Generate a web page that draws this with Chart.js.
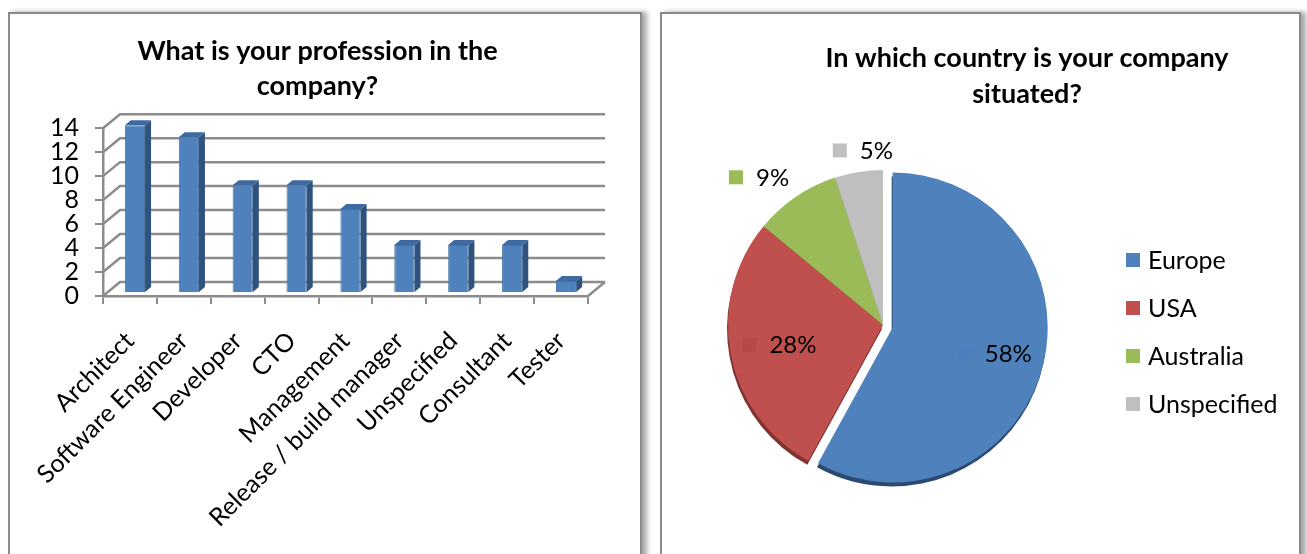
<!DOCTYPE html>
<html>
<head>
<meta charset="utf-8">
<title>Survey charts</title>
<script src="https://cdn.jsdelivr.net/npm/chart.js@4.4.1/dist/chart.umd.min.js"></script>
<style>
  html, body { margin: 0; padding: 0; background: #fff; overflow: hidden; }
  body { width: 1307px; height: 554px; position: relative; }
  .panel {
    position: absolute; top: 12px; height: 620px; box-sizing: border-box;
    border: 2px solid #8a8a8a; background: #fff;
    box-shadow: 5px 0 5px rgba(0, 0, 0, 0.35);
  }
  #leftPanel { left: 8px; width: 634px; }
  #rightPanel { left: 660px; width: 641px; }
  canvas { position: absolute; top: 0; }
  #barChart { left: 0; }
  #pieChart { left: 653px; }
</style>
</head>
<body>
<div class="panel" id="leftPanel"></div>
<div class="panel" id="rightPanel"></div>
<canvas id="barChart" width="653" height="554"></canvas>
<canvas id="pieChart" width="654" height="554"></canvas>

<script>
// profession survey
const professions = ['Architect', 'Software Engineer', 'Developer', 'CTO', 'Management',
  'Release / build manager', 'Unspecified', 'Consultant', 'Tester'];
const professionCounts = [14, 13, 9, 9, 7, 4, 4, 4, 1];
const countMax = 14;
const countStep = 2;

// company location survey (percent)
const countries = ['Europe', 'USA', 'Australia', 'Unspecified'];
const countryShares = [58, 28, 9, 5];

const FONT = 'Lato, "Open Sans", sans-serif';
const GRID_GRAY = '#8c8c8c';

const barFront = '#4f81bd';
const barSide = '#30527f';
const barTop = '#3e6aa1';

const pieColors = ['#4f81bd', '#c0504d', '#9bbb59', '#bfbfbf'];
const pieSides = ['#2c4a70', '#7e3331', '#4f6328', '#7f7f7f'];

// back wall + floor of the pseudo-3D bar chart, then bar sides/tops
const wall3d = {
  id: 'wall3d',
  beforeDatasetsDraw(chart, args, opts) {
    const { ctx, chartArea: a, scales: { y } } = chart;
    ctx.save();
    ctx.strokeStyle = GRID_GRAY;
    ctx.lineWidth = 2.5;
    y.ticks.forEach(t => {
      const py = y.getPixelForValue(t.value);
      ctx.beginPath();
      ctx.moveTo(a.left, py);
      ctx.lineTo(a.left + opts.dx, py + opts.dy);
      ctx.lineTo(a.right + opts.dx, py + opts.dy);
      ctx.stroke();
    });
    ctx.beginPath();
    ctx.moveTo(a.right, a.bottom);
    ctx.lineTo(a.right + opts.dx, a.bottom + opts.dy);
    ctx.stroke();
    ctx.restore();

    // bars stand half way into the depth
    ctx.save();
    ctx.translate(opts.shiftX, opts.shiftY);
  },
  afterDatasetsDraw(chart, args, opts) {
    const { ctx } = chart;
    const bx = opts.barDx, by = opts.barDy;
    chart.getDatasetMeta(0).data.forEach(bar => {
      const x1 = bar.x - bar.width / 2;
      const x2 = bar.x + bar.width / 2;
      const top = bar.y, base = bar.base;

      ctx.fillStyle = barSide;
      ctx.beginPath();
      ctx.moveTo(x2, top);
      ctx.lineTo(x2 + bx, top + by);
      ctx.lineTo(x2 + bx, base + by);
      ctx.lineTo(x2, base);
      ctx.closePath();
      ctx.fill();

      ctx.fillStyle = barTop;
      ctx.beginPath();
      ctx.moveTo(x1, top);
      ctx.lineTo(x1 + bx, top + by);
      ctx.lineTo(x2 + bx, top + by);
      ctx.lineTo(x2, top);
      ctx.closePath();
      ctx.fill();
    });
    ctx.restore();
  }
};

new Chart(document.getElementById('barChart'), {
  type: 'bar',
  data: {
    labels: professions,
    datasets: [{
      data: professionCounts,
      backgroundColor: barFront,
      borderColor: '#44729f',
      borderWidth: 1,
      barPercentage: 0.375,
      categoryPercentage: 1
    }]
  },
  plugins: [wall3d],
  options: {
    responsive: false,
    animation: false,
    layout: { padding: { left: 47, right: 65, top: 0, bottom: 0 } },
    plugins: {
      legend: { display: false },
      tooltip: { enabled: false },
      title: {
        display: true,
        text: ['What is your profession in the', 'company?'],
        color: '#000',
        font: { family: FONT, size: 27, weight: 'bold', lineHeight: 1.3 },
        padding: { top: 34, bottom: 24 }
      },
      wall3d: { dx: 17, dy: -14, shiftX: 5, shiftY: -3, barDx: 6, barDy: -5 }
    },
    scales: {
      x: {
        afterFit(scale) { scale.height = 258; },
        grid: { offset: true, drawOnChartArea: false, color: GRID_GRAY, lineWidth: 2, tickLength: 8 },
        border: { color: GRID_GRAY, width: 2.5 },
        ticks: {
          color: '#000',
          font: { family: FONT, size: 25 },
          autoSkip: false,
          minRotation: 45,
          maxRotation: 45,
          padding: 22
        }
      },
      y: {
        min: 0,
        max: countMax,
        afterFit(scale) { scale.width = 56; },
        grid: { drawOnChartArea: false, color: GRID_GRAY, lineWidth: 2, tickLength: 8 },
        border: { color: GRID_GRAY, width: 2.5 },
        ticks: {
          stepSize: countStep,
          autoSkip: false,
          color: '#000',
          font: { family: FONT, size: 25 },
          padding: 16
        }
      }
    }
  }
});

// exploded slices, 3D rim, percentage labels, title and legend for the pie
const pieDecor = {
  id: 'pieDecor',
  afterUpdate(chart, args, opts) {
    chart.getDatasetMeta(0).data.forEach((arc, i) => {
      const shift = opts.explode[i] || 0;
      if (!shift || arc._exploded) return;
      const baseDraw = arc.draw;
      arc.draw = function (ctx, area) {
        const mid = (this.startAngle + this.endAngle) / 2;
        ctx.save();
        ctx.translate(Math.cos(mid) * shift, Math.sin(mid) * shift);
        baseDraw.call(this, ctx, area);
        ctx.restore();
      };
      arc._exploded = true;
    });
  },
  beforeDatasetsDraw(chart, args, opts) {
    const { ctx } = chart;
    ctx.save();
    chart.getDatasetMeta(0).data.forEach((arc, i) => {
      const mid = (arc.startAngle + arc.endAngle) / 2;
      const shift = opts.explode[i] || 0;
      const cx = arc.x + Math.cos(mid) * shift + opts.rimDx;
      const cy = arc.y + Math.sin(mid) * shift + opts.rimDy;
      ctx.fillStyle = pieSides[i];
      ctx.beginPath();
      ctx.moveTo(cx, cy);
      ctx.arc(cx, cy, arc.outerRadius, arc.startAngle, arc.endAngle);
      ctx.closePath();
      ctx.fill();
    });
    ctx.restore();
  },
  afterDatasetsDraw(chart, args, opts) {
    const { ctx } = chart;
    const values = chart.data.datasets[0].data;
    const total = values.reduce((s, v) => s + v, 0);
    ctx.save();
    ctx.font = `${opts.labelSize}px ${FONT}`;
    ctx.textBaseline = 'middle';
    chart.getDatasetMeta(0).data.forEach((arc, i) => {
      const mid = (arc.startAngle + arc.endAngle) / 2;
      const cos = Math.cos(mid), sin = Math.sin(mid);
      const shift = opts.explode[i] || 0;
      const cx = arc.x + cos * shift;
      const cy = arc.y + sin * shift;
      const share = values[i] / total;
      const text = Math.round(share * 100) + '%';
      const box = opts.box, gap = opts.boxGap;
      const w = box + gap + ctx.measureText(text).width;
      const h = opts.labelSize * 0.8;
      let left, midY;
      if (share >= opts.insideMin) {
        const r = arc.outerRadius * opts.insideFactor;
        left = cx + cos * r - w / 2;
        midY = cy + sin * r;
        ctx.fillStyle = opts.insideBoxes[i];
      } else {
        const r = arc.outerRadius + opts.outsideGap;
        const px = cx + cos * r, py = cy + sin * r;
        if (Math.abs(cos) < 0.3) left = px - w / 2 + 6;
        else left = cos < 0 ? px - w : px;
        midY = sin < 0 ? py - h / 2 : py + h / 2;
        ctx.fillStyle = pieColors[i];
      }
      ctx.fillRect(left, midY - box / 2, box, box);
      ctx.fillStyle = '#000';
      ctx.textAlign = 'left';
      ctx.fillText(text, left + box + gap, midY + 1);
    });
    ctx.restore();
  },
  afterDraw(chart, args, opts) {
    const { ctx } = chart;
    ctx.save();
    ctx.fillStyle = '#000';
    ctx.textBaseline = 'middle';
    ctx.textAlign = 'center';
    ctx.font = `bold 27px ${FONT}`;
    opts.title.forEach((line, k) => ctx.fillText(line, opts.titleX, opts.titleY + k * opts.titleStep));

    ctx.textAlign = 'left';
    ctx.font = `25px ${FONT}`;
    chart.data.labels.forEach((label, i) => {
      const y = opts.legendY + i * opts.legendStep;
      ctx.fillStyle = pieColors[i];
      ctx.fillRect(opts.legendX, y - 7, 14, 14);
      ctx.fillStyle = '#000';
      ctx.fillText(label, opts.legendX + 22, y + 1);
    });
    ctx.restore();
  }
};

new Chart(document.getElementById('pieChart'), {
  type: 'pie',
  data: {
    labels: countries,
    datasets: [{
      data: countryShares,
      backgroundColor: pieColors,
      borderWidth: 0
    }]
  },
  plugins: [pieDecor],
  options: {
    responsive: false,
    animation: false,
    radius: 155,
    layout: { padding: { left: 70, right: 264, top: 165, bottom: 69 } },
    plugins: {
      legend: { display: false },
      tooltip: { enabled: false },
      title: { display: false },
      pieDecor: {
        explode: [10, 0, 0, 0],
        rimDx: -1,
        rimDy: 4,
        labelSize: 24,
        box: 14,
        boxGap: 13,
        insideMin: 0.15,
        insideFactor: 0.68,
        insideBoxes: ['#4d7fc0', '#b84845'],
        outsideGap: 12,
        title: ['In which country is your company', 'situated?'],
        titleX: 374,
        titleY: 58,
        titleStep: 36,
        legendX: 473,
        legendY: 260,
        legendStep: 48
      }
    }
  }
});
</script>
</body>
</html>
